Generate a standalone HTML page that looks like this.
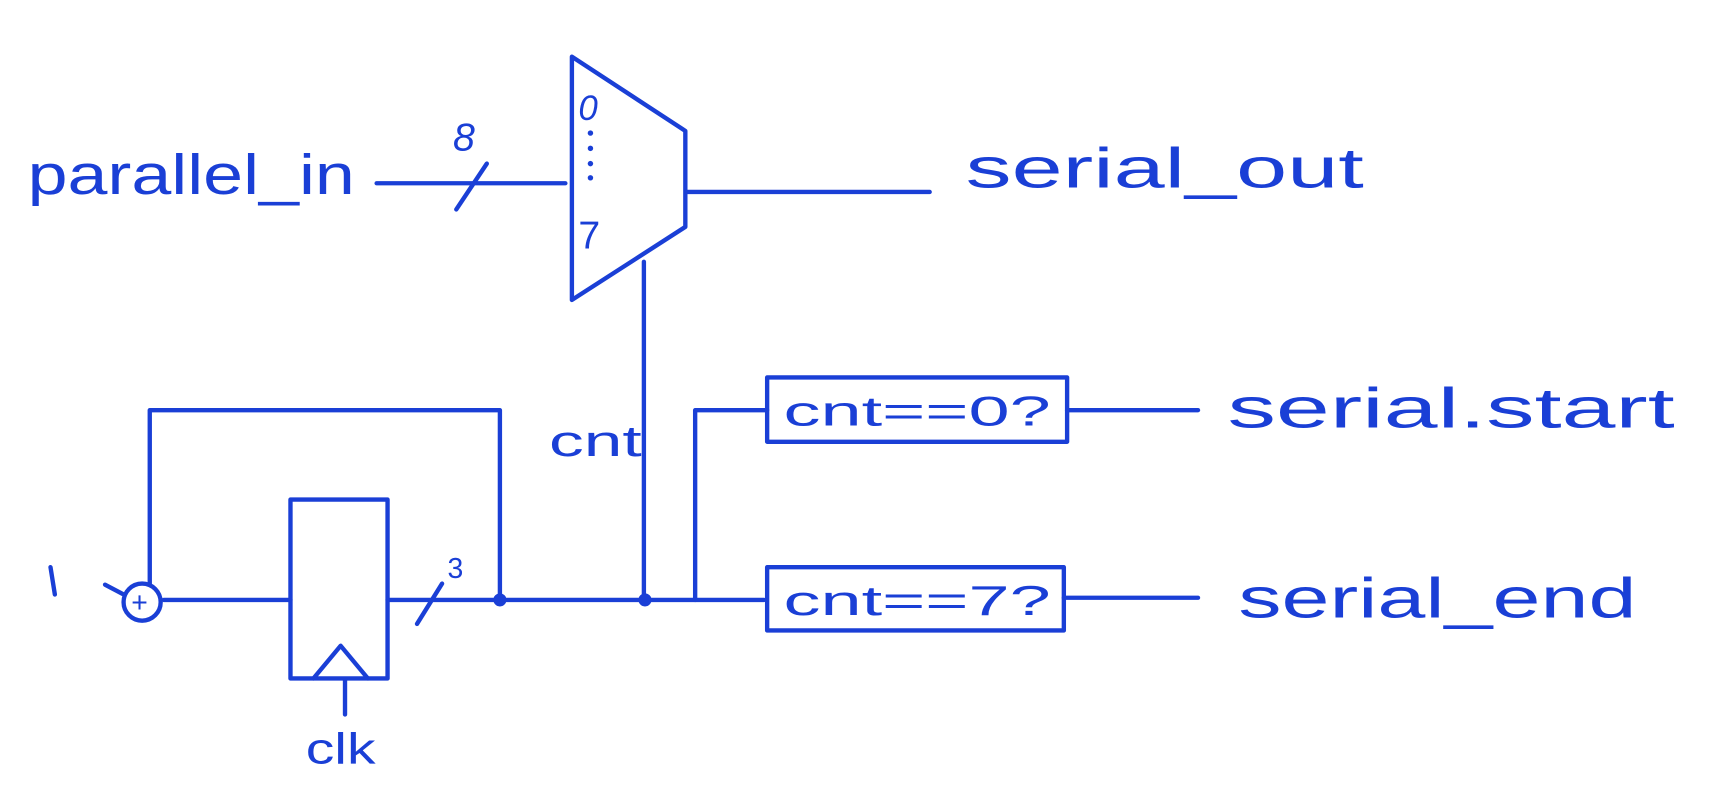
<!DOCTYPE html>
<html><head><meta charset="utf-8"><style>
html,body{margin:0;padding:0;background:#fff;}
svg{display:block;}
text{font-family:"Liberation Sans",sans-serif;fill:#1a3fd6;}
</style></head><body>
<svg width="1711" height="805" viewBox="0 0 1568 738" xmlns="http://www.w3.org/2000/svg">
<g stroke="#1a3fd6" stroke-width="4" fill="none" stroke-linecap="round" stroke-linejoin="round">
<polygon points="524,52 628,120 628,208 524,275"/>
<line x1="345" y1="168" x2="518" y2="168"/>
<line x1="418" y1="192" x2="446" y2="150"/>
<line x1="630" y1="176" x2="852" y2="176"/>
<line x1="590" y1="240" x2="590" y2="548"/>
<line x1="150" y1="550" x2="266" y2="550"/>
<line x1="355" y1="550" x2="700" y2="550"/>
<polyline points="458,550 458,376 137,376 137,535"/>
<circle cx="130" cy="552" r="17"/>
<line x1="96" y1="536" x2="113" y2="545"/>
<rect x="266" y="458" width="89" height="164"/>
<polyline points="287,622 312,592 337,622"/>
<line x1="316" y1="624" x2="316" y2="655"/>
<line x1="382" y1="572" x2="405" y2="535"/>
<polyline points="637,550 637,376 703,376"/>
<rect x="703" y="346" width="275" height="59"/>
<line x1="978" y1="376" x2="1098" y2="376"/>
<rect x="703" y="520" width="272" height="58"/>
<line x1="975" y1="548" x2="1098" y2="548"/>
<line x1="46" y1="520" x2="50" y2="545"/>
</g>
<circle cx="458" cy="550" r="6" fill="#1a3fd6"/>
<circle cx="591" cy="550" r="6" fill="#1a3fd6"/>
<g fill="#1a3fd6"><circle cx="541" cy="122" r="2.5"/><circle cx="541" cy="136" r="2.5"/><circle cx="541" cy="150" r="2.5"/><circle cx="541" cy="163" r="2.5"/></g>
<text x="120" y="561" font-size="26">+</text>
<text x="530" y="110" font-size="32" font-style="italic">0</text>
<text x="530" y="228" font-size="36">7</text>
<text x="415" y="138" font-size="36" font-style="italic">8</text>
<text x="410" y="530" font-size="26">3</text>
<text x="25" y="178" font-size="52" textLength="300" lengthAdjust="spacingAndGlyphs">parallel_in</text>
<text x="885" y="172" font-size="52" textLength="365" lengthAdjust="spacingAndGlyphs">serial_out</text>
<text x="503" y="418" font-size="40" textLength="85" lengthAdjust="spacingAndGlyphs">cnt</text>
<text x="280" y="700" font-size="40" textLength="64" lengthAdjust="spacingAndGlyphs">clk</text>
<text x="718" y="390" font-size="38" textLength="245" lengthAdjust="spacingAndGlyphs">cnt==0?</text>
<text x="718" y="564" font-size="38" textLength="245" lengthAdjust="spacingAndGlyphs">cnt==7?</text>
<text x="1125" y="392" font-size="52" textLength="410" lengthAdjust="spacingAndGlyphs">serial.start</text>
<text x="1135" y="566" font-size="52" textLength="365" lengthAdjust="spacingAndGlyphs">serial_end</text>
</svg>
</body></html>
